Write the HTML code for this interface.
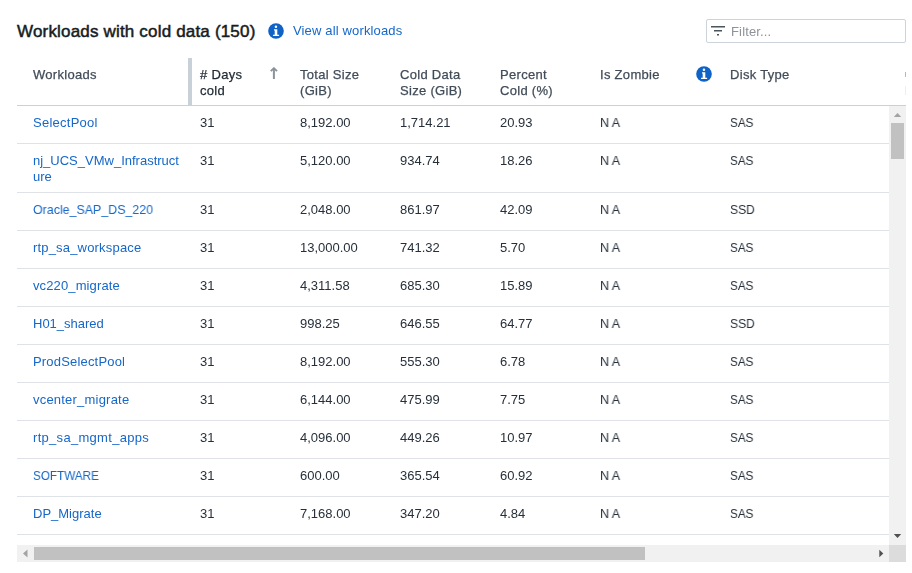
<!DOCTYPE html>
<html><head><meta charset="utf-8">
<style>
html,body{margin:0;padding:0;background:#fff;}
body{width:912px;height:573px;overflow:hidden;position:relative;font-family:"Liberation Sans",sans-serif;}
.a{position:absolute;}
.title{position:absolute;left:17px;top:22px;font-size:17px;line-height:20px;color:#161c22;-webkit-text-stroke:0.5px #161c22;letter-spacing:0.18px;white-space:nowrap;}
.link{position:absolute;left:293px;top:23px;font-size:13px;line-height:16px;color:#1567c9;letter-spacing:0.15px;white-space:nowrap;}
.fbox{position:absolute;left:706px;top:19px;width:198px;height:22px;border:1px solid #ccd3da;border-radius:2px;}
.ph{position:absolute;left:731px;top:24px;font-size:13px;line-height:16px;color:#8d9399;letter-spacing:0.15px;white-space:nowrap;}
.h{position:absolute;font-size:13px;line-height:16px;color:#414c58;-webkit-text-stroke:0.25px #414c58;letter-spacing:0.3px;white-space:nowrap;}
.hb{position:absolute;left:17px;top:105px;width:889px;height:1px;background:#c9d0d7;}
.c{position:absolute;font-size:13px;line-height:16px;color:#27303a;white-space:nowrap;}
.lk{color:#1567c9;}
.c,.h,.link,.ph{will-change:transform;}
.rb{position:absolute;left:17px;width:872px;height:1px;background:#dfe3e7;}
</style></head><body>
<div class="title">Workloads with cold data (150)</div>
<svg class="a" style="left:268px;top:23px" width="16" height="16" viewBox="0 0 16 16"><circle cx="8" cy="8" r="7.8" fill="#0f62c6"/><circle cx="7.95" cy="3.85" r="1.25" fill="#fff"/><path d="M6 6.2h3.3v5.6h1.8V13H5V11.8h1.7V7.4H6z" fill="#fff"/></svg>
<div class="link">View all workloads</div>
<div class="fbox"></div>
<svg class="a" style="left:711px;top:25px" width="15" height="11" viewBox="0 0 15 11"><rect x="0" y="1" width="14" height="1.5" fill="#4b535b"/><rect x="3" y="5" width="8" height="1.5" fill="#4b535b"/><rect x="6" y="9" width="2" height="1.5" fill="#4b535b"/></svg>
<div class="ph">Filter...</div>

<div class="h" style="left:33px;top:67px">Workloads</div>
<div class="a" style="left:188px;top:58px;width:4px;height:47px;background:#c8d0d8"></div>
<div class="h" style="left:200px;top:67px;color:#1f2933;-webkit-text-stroke-color:#1f2933">#&nbsp;Days<br>cold</div>
<svg class="a" style="left:264px;top:64px" width="20" height="20" viewBox="264 64 20 20"><path d="M273.9 68.5V79" stroke="#8a939d" stroke-width="2"/><path d="M270.8 71.2L273.9 68.1L277 71.2" stroke="#8a939d" stroke-width="1.9" fill="none" stroke-linejoin="round"/></svg>
<div class="h" style="left:300px;top:67px">Total Size<br>(GiB)</div>
<div class="h" style="left:400px;top:67px">Cold Data<br>Size (GiB)</div>
<div class="h" style="left:500px;top:67px">Percent<br>Cold (%)</div>
<div class="h" style="left:600px;top:67px">Is Zombie</div>
<svg class="a" style="left:696px;top:66px" width="16" height="16" viewBox="0 0 16 16"><circle cx="8" cy="8" r="7.8" fill="#0f62c6"/><circle cx="7.95" cy="3.85" r="1.25" fill="#fff"/><path d="M6 6.2h3.3v5.6h1.8V13H5V11.8h1.7V7.4H6z" fill="#fff"/></svg>
<div class="h" style="left:730px;top:67px">Disk Type</div>
<div class="hb"></div>
<div class="a" style="left:905px;top:72px;width:1px;height:5px;background:#b4b9c1"></div>
<div class="a" style="left:905px;top:86px;width:1px;height:9px;background:#eceef1"></div>

<div class="c lk" style="left:33px;top:114.5px;letter-spacing:0.25px">SelectPool</div>
<div class="c" style="left:200px;top:114.5px">31</div>
<div class="c" style="left:300px;top:114.5px">8,192.00</div>
<div class="c" style="left:400px;top:114.5px">1,714.21</div>
<div class="c" style="left:500px;top:114.5px">20.93</div>
<div class="c" style="left:600px;top:114.5px;transform:scaleX(0.96);transform-origin:0 0">N A</div>
<div class="c" style="left:730px;top:114.5px;transform:scaleX(0.9);transform-origin:0 0">SAS</div>
<div class="rb" style="top:143px"></div>
<div class="c lk" style="left:33px;top:152.5px">nj_UCS_VMw_Infrastruct<br>ure</div>
<div class="c" style="left:200px;top:152.5px">31</div>
<div class="c" style="left:300px;top:152.5px">5,120.00</div>
<div class="c" style="left:400px;top:152.5px">934.74</div>
<div class="c" style="left:500px;top:152.5px">18.26</div>
<div class="c" style="left:600px;top:152.5px;transform:scaleX(0.96);transform-origin:0 0">N A</div>
<div class="c" style="left:730px;top:152.5px;transform:scaleX(0.9);transform-origin:0 0">SAS</div>
<div class="rb" style="top:192px"></div>
<div class="c lk" style="left:33px;top:201.5px;transform:scaleX(0.955);transform-origin:0 0">Oracle_SAP_DS_220</div>
<div class="c" style="left:200px;top:201.5px">31</div>
<div class="c" style="left:300px;top:201.5px">2,048.00</div>
<div class="c" style="left:400px;top:201.5px">861.97</div>
<div class="c" style="left:500px;top:201.5px">42.09</div>
<div class="c" style="left:600px;top:201.5px;transform:scaleX(0.96);transform-origin:0 0">N A</div>
<div class="c" style="left:730px;top:201.5px;transform:scaleX(0.93);transform-origin:0 0">SSD</div>
<div class="rb" style="top:230px"></div>
<div class="c lk" style="left:33px;top:239.5px;letter-spacing:0.18px">rtp_sa_workspace</div>
<div class="c" style="left:200px;top:239.5px">31</div>
<div class="c" style="left:300px;top:239.5px">13,000.00</div>
<div class="c" style="left:400px;top:239.5px">741.32</div>
<div class="c" style="left:500px;top:239.5px">5.70</div>
<div class="c" style="left:600px;top:239.5px;transform:scaleX(0.96);transform-origin:0 0">N A</div>
<div class="c" style="left:730px;top:239.5px;transform:scaleX(0.9);transform-origin:0 0">SAS</div>
<div class="rb" style="top:268px"></div>
<div class="c lk" style="left:33px;top:277.5px;letter-spacing:0.12px">vc220_migrate</div>
<div class="c" style="left:200px;top:277.5px">31</div>
<div class="c" style="left:300px;top:277.5px">4,311.58</div>
<div class="c" style="left:400px;top:277.5px">685.30</div>
<div class="c" style="left:500px;top:277.5px">15.89</div>
<div class="c" style="left:600px;top:277.5px;transform:scaleX(0.96);transform-origin:0 0">N A</div>
<div class="c" style="left:730px;top:277.5px;transform:scaleX(0.9);transform-origin:0 0">SAS</div>
<div class="rb" style="top:306px"></div>
<div class="c lk" style="left:33px;top:315.5px">H01_shared</div>
<div class="c" style="left:200px;top:315.5px">31</div>
<div class="c" style="left:300px;top:315.5px">998.25</div>
<div class="c" style="left:400px;top:315.5px">646.55</div>
<div class="c" style="left:500px;top:315.5px">64.77</div>
<div class="c" style="left:600px;top:315.5px;transform:scaleX(0.96);transform-origin:0 0">N A</div>
<div class="c" style="left:730px;top:315.5px;transform:scaleX(0.93);transform-origin:0 0">SSD</div>
<div class="rb" style="top:344px"></div>
<div class="c lk" style="left:33px;top:353.5px;letter-spacing:0.18px">ProdSelectPool</div>
<div class="c" style="left:200px;top:353.5px">31</div>
<div class="c" style="left:300px;top:353.5px">8,192.00</div>
<div class="c" style="left:400px;top:353.5px">555.30</div>
<div class="c" style="left:500px;top:353.5px">6.78</div>
<div class="c" style="left:600px;top:353.5px;transform:scaleX(0.96);transform-origin:0 0">N A</div>
<div class="c" style="left:730px;top:353.5px;transform:scaleX(0.9);transform-origin:0 0">SAS</div>
<div class="rb" style="top:382px"></div>
<div class="c lk" style="left:33px;top:391.5px;letter-spacing:0.21px">vcenter_migrate</div>
<div class="c" style="left:200px;top:391.5px">31</div>
<div class="c" style="left:300px;top:391.5px">6,144.00</div>
<div class="c" style="left:400px;top:391.5px">475.99</div>
<div class="c" style="left:500px;top:391.5px">7.75</div>
<div class="c" style="left:600px;top:391.5px;transform:scaleX(0.96);transform-origin:0 0">N A</div>
<div class="c" style="left:730px;top:391.5px;transform:scaleX(0.9);transform-origin:0 0">SAS</div>
<div class="rb" style="top:420px"></div>
<div class="c lk" style="left:33px;top:429.5px;letter-spacing:0.3px">rtp_sa_mgmt_apps</div>
<div class="c" style="left:200px;top:429.5px">31</div>
<div class="c" style="left:300px;top:429.5px">4,096.00</div>
<div class="c" style="left:400px;top:429.5px">449.26</div>
<div class="c" style="left:500px;top:429.5px">10.97</div>
<div class="c" style="left:600px;top:429.5px;transform:scaleX(0.96);transform-origin:0 0">N A</div>
<div class="c" style="left:730px;top:429.5px;transform:scaleX(0.9);transform-origin:0 0">SAS</div>
<div class="rb" style="top:458px"></div>
<div class="c lk" style="left:33px;top:467.5px;transform:scaleX(0.9);transform-origin:0 0">SOFTWARE</div>
<div class="c" style="left:200px;top:467.5px">31</div>
<div class="c" style="left:300px;top:467.5px">600.00</div>
<div class="c" style="left:400px;top:467.5px">365.54</div>
<div class="c" style="left:500px;top:467.5px">60.92</div>
<div class="c" style="left:600px;top:467.5px;transform:scaleX(0.96);transform-origin:0 0">N A</div>
<div class="c" style="left:730px;top:467.5px;transform:scaleX(0.9);transform-origin:0 0">SAS</div>
<div class="rb" style="top:496px"></div>
<div class="c lk" style="left:33px;top:505.5px">DP_Migrate</div>
<div class="c" style="left:200px;top:505.5px">31</div>
<div class="c" style="left:300px;top:505.5px">7,168.00</div>
<div class="c" style="left:400px;top:505.5px">347.20</div>
<div class="c" style="left:500px;top:505.5px">4.84</div>
<div class="c" style="left:600px;top:505.5px;transform:scaleX(0.96);transform-origin:0 0">N A</div>
<div class="c" style="left:730px;top:505.5px;transform:scaleX(0.9);transform-origin:0 0">SAS</div>
<div class="rb" style="top:534px"></div>

<!-- vertical scrollbar -->
<div class="a" style="left:889px;top:106px;width:17px;height:439px;background:#f1f1f1"></div>
<div class="a" style="left:891px;top:123px;width:13px;height:36px;background:#c1c1c1"></div>
<svg class="a" style="left:893px;top:112px" width="9" height="6" viewBox="0 0 9 6"><path d="M0.8 5L4.5 1L8.2 5z" fill="#a3a3a3"/></svg>
<svg class="a" style="left:893px;top:533px" width="9" height="6" viewBox="0 0 9 6"><path d="M0.8 1L4.5 5L8.2 1z" fill="#505050"/></svg>
<!-- horizontal scrollbar -->
<div class="a" style="left:17px;top:545px;width:872px;height:17px;background:#f1f1f1"></div>
<div class="a" style="left:34px;top:547px;width:611px;height:13px;background:#c1c1c1"></div>
<svg class="a" style="left:22px;top:549px" width="6" height="9" viewBox="0 0 6 9"><path d="M5.5 0.5L1 4.5L5.5 8.5z" fill="#a3a3a3"/></svg>
<svg class="a" style="left:879px;top:549px" width="6" height="9" viewBox="0 0 6 9"><path d="M0.3 0.8L4.3 4.5L0.3 8.2z" fill="#505050"/></svg>
<div class="a" style="left:889px;top:545px;width:17px;height:17px;background:#dcdcdc"></div>
</body></html>
